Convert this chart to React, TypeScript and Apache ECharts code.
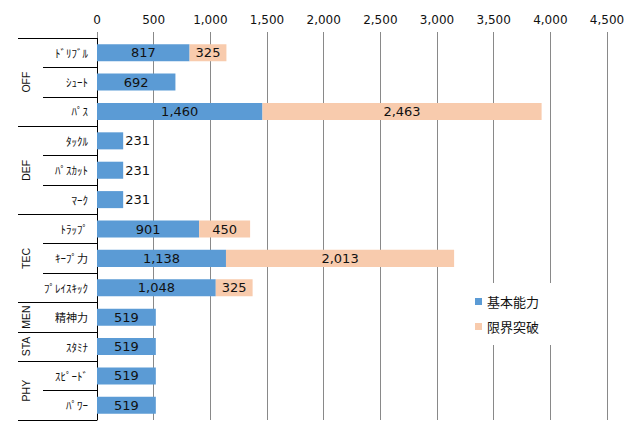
import React, { useEffect, useRef } from "react";
import * as echarts from "echarts";

const categories = ["ﾄﾞﾘﾌﾞﾙ", "ｼｭｰﾄ", "ﾊﾟｽ", "ﾀｯｸﾙ", "ﾊﾟｽｶｯﾄ", "ﾏｰｸ", "ﾄﾗｯﾌﾟ", "ｷｰﾌﾟ力", "ﾌﾟﾚｲｽｷｯｸ", "精神力", "ｽﾀﾐﾅ", "ｽﾋﾟｰﾄﾞ", "ﾊﾟﾜｰ"];
const groupNames = ["OFF", "DEF", "TEC", "MEN", "STA", "PHY"];
const groupSizes = [3, 3, 3, 1, 1, 2];
const seriesNames = ["基本能力", "限界突破"];
const baseValues = [817, 692, 1460, 231, 231, 231, 901, 1138, 1048, 519, 519, 519, 519];
const breakValues: (number | null)[] = [325, null, 2463, null, null, null, 450, 2013, 325, null, null, null, null];
const xTicks = { min: 0, max: 4500, interval: 500 };

const NUM_FONT = "'DejaVu Sans', 'Noto Sans CJK JP', sans-serif";
const CJK_FONT = "'Noto Sans CJK JP', sans-serif";

const fmt = (v: number) => v.toLocaleString("en-US");

export default function App() {
  const ref = useRef<HTMLDivElement>(null);
  useEffect(() => {
    if (!ref.current) return;
    const chart = echarts.init(ref.current, undefined, { renderer: "svg" });
    const labelBase = { show: true, position: "inside", color: "#111", fontSize: 13, fontFamily: NUM_FONT, formatter: (p: any) => fmt(p.value) };
    chart.setOption({
      animation: false,
      backgroundColor: "#fff",
      grid: { left: 97, right: 34, top: 38, bottom: 19, containLabel: false },
      legend: {
        orient: "vertical",
        left: 463,
        top: 283,
        padding: [12, 14, 12, 12],
        itemGap: 12,
        itemWidth: 7,
        itemHeight: 7,
        icon: "rect",
        backgroundColor: "#fff",
        textStyle: { fontSize: 13, fontFamily: CJK_FONT, color: "#111" },
        data: seriesNames,
      },
      xAxis: {
        type: "value",
        position: "top",
        min: xTicks.min,
        max: xTicks.max,
        interval: xTicks.interval,
        axisLine: { show: false },
        axisTick: { show: true, length: 6, lineStyle: { color: "#898989" } },
        splitLine: { show: true, lineStyle: { color: "#898989", width: 1 } },
        axisLabel: { fontSize: 12, fontFamily: NUM_FONT, color: "#111", margin: 12, formatter: (v: number) => fmt(v) },
      },
      yAxis: {
        type: "category",
        inverse: true,
        data: categories,
        axisLine: { show: true, lineStyle: { color: "#000", width: 1 } },
        axisTick: { show: true, length: 54, interval: 0, lineStyle: { color: "#000" } },
        axisLabel: { fontSize: 11, fontFamily: CJK_FONT, color: "#111", margin: 9, interval: 0 },
        splitLine: { show: false },
      },
      series: [
        {
          name: seriesNames[0],
          type: "bar",
          stack: "total",
          barWidth: "58%",
          itemStyle: { color: "#5B9BD5" },
          label: labelBase,
          data: baseValues.map((v) => (v < 300 ? { value: v, label: { position: "right", distance: 2 } } : v)),
        },
        {
          name: seriesNames[1],
          type: "bar",
          stack: "total",
          barWidth: "58%",
          itemStyle: { color: "#F8CBAD" },
          label: labelBase,
          data: breakValues,
        },
      ],
    });

    // multi-level group labels and boundaries
    const c0 = chart.convertToPixel({ yAxisIndex: 0 }, categories[0]) as number;
    const c1 = chart.convertToPixel({ yAxisIndex: 0 }, categories[1]) as number;
    const band = c1 - c0;
    const axisX = chart.convertToPixel({ xAxisIndex: 0 }, 0) as number;
    const elements: any[] = [];
    let idx = 0;
    const boundaries: number[] = [c0 - band / 2];
    groupSizes.forEach((size, g) => {
      const top = c0 - band / 2 + idx * band;
      const bottom = top + size * band;
      boundaries.push(bottom);
      elements.push({
        type: "text",
        x: 26,
        y: (top + bottom) / 2,
        rotation: Math.PI / 2,
        style: { text: groupNames[g], fontSize: 10.5, fontFamily: "'Liberation Sans', Arial, sans-serif", fill: "#111", align: "center", verticalAlign: "middle" },
      });
      idx += size;
    });
    boundaries.forEach((y) => {
      const yy = Math.round(y) + 0.5;
      elements.push({ type: "line", shape: { x1: 18, y1: yy, x2: axisX, y2: yy }, style: { stroke: "#000", lineWidth: 1 } });
    });
    chart.setOption({ graphic: elements });

    return () => chart.dispose();
  }, []);
  return <div ref={ref} style={{ position: "fixed", left: 0, top: 0, width: 641, height: 439 }} />;
}
